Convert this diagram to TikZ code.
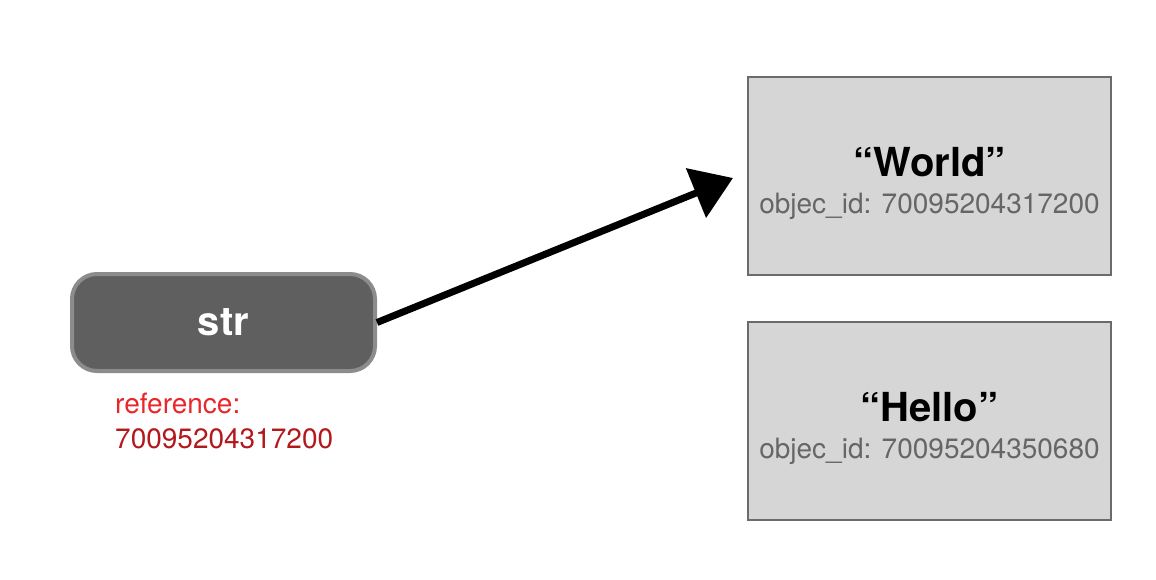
\documentclass[tikz,border=0pt]{standalone}
\usepackage{fontspec}
\setmainfont{TeX Gyre Heros}
\usepackage{tikz}
\usetikzlibrary{positioning,arrows.meta}

\definecolor{strfill}{HTML}{5F5F5F}
\definecolor{strline}{HTML}{8C8C8C}
\definecolor{objfill}{HTML}{D6D6D6}
\definecolor{objline}{HTML}{6B6B6B}
\definecolor{idgray}{HTML}{666666}
\definecolor{refred}{HTML}{E8272B}
\definecolor{refdark}{HTML}{B3181C}

\begin{document}
\begin{tikzpicture}[x=1pt, y=-1pt,
  varbox/.style = {fill = strfill, draw = strline, line width = 4pt, shape = rectangle, rounded corners = 25pt, minimum width = 303pt, minimum height = 97pt, text = white, font = \fontsize{40}{48}\selectfont\bfseries},
  objbox/.style = {fill = objfill, draw = objline, line width = 2pt, shape = rectangle, minimum width = 363pt, minimum height = 198pt},
  objname/.style = {anchor = base, inner sep = 0pt, font = \fontsize{40}{48}\selectfont\bfseries},
  objid/.style = {anchor = base, inner sep = 0pt, text = idgray, font = \fontsize{28}{34}\selectfont},
  reftext/.style = {anchor = base west, inner sep = 0pt, font = \fontsize{28}{34}\selectfont}]
\useasboundingbox (0,0) rectangle (1156,580);
\node[varbox] (str) at (223.5,322.5) {str};
\node[reftext, text = refred] (reflabel) at (115,413) {reference:};
\node[reftext, text = refdark] (refvalue) at ([yshift=-35pt]reflabel.base west) {70095204317200};
\node[objbox] (world) at (929.5,176) {};
\node[objbox] (hello) at (929.5,420.5) {};
\node[objname] (worldname) at (929.5,177) {“World”};
\node[objid] (worldid) at ([yshift=-37pt]worldname.base) {objec\_id: 70095204317200};
\node[objname] (helloname) at (929.5,421) {“Hello”};
\node[objid] (helloid) at ([yshift=-37pt]helloname.base) {objec\_id: 70095204350680};
\coordinate (tip) at (733,178);
\draw[line width = 7pt, -{Triangle[length=40pt, width=52pt]}] (str.east) -- (tip);
\end{tikzpicture}
\end{document}
